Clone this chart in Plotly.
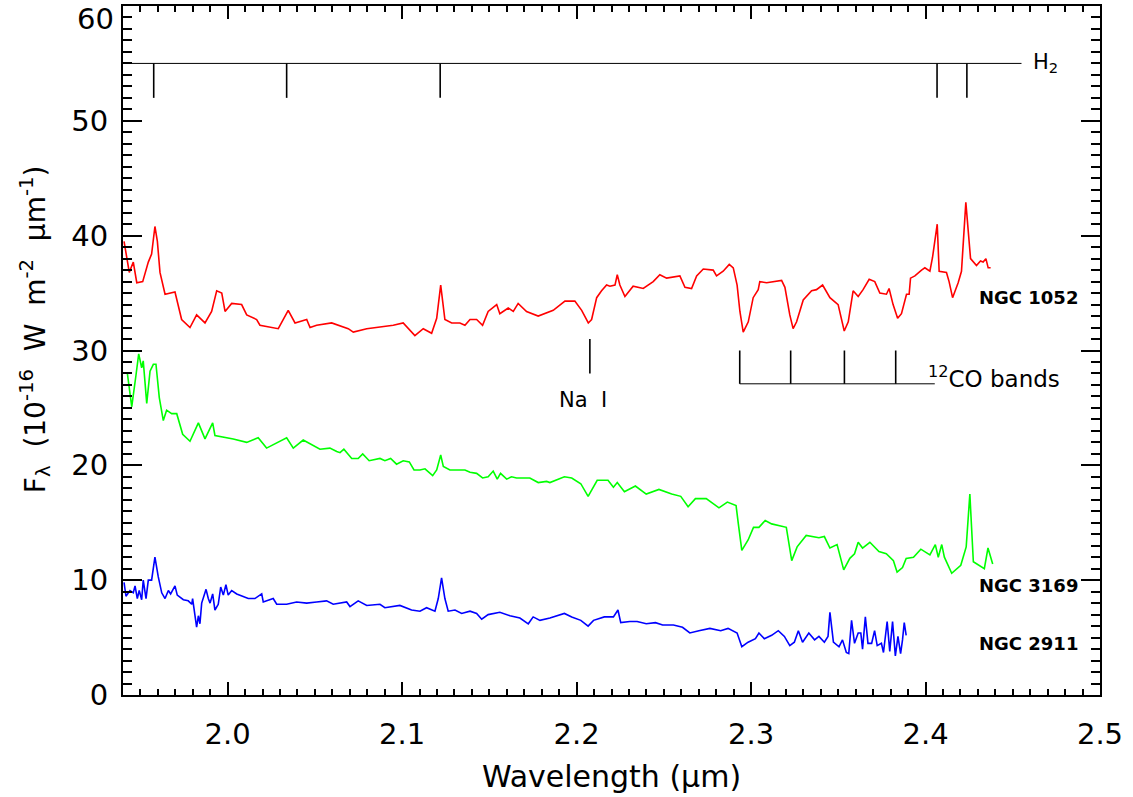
import plotly.graph_objects as go

# ---------------- data ----------------
ngc1052_wl = [1.9406, 1.9421, 1.9436, 1.9459, 1.9479, 1.9513, 1.9545, 1.9564, 1.9583, 1.9597, 1.9612, 1.9641,
              1.9698, 1.9736, 1.9784, 1.9822, 1.9870, 1.9908, 1.9937, 1.9966, 1.9985, 2.0023, 2.0080, 2.0109,
              2.0166, 2.0185, 2.0290, 2.0347, 2.0386, 2.0453, 2.0472, 2.0510, 2.0596, 2.0691, 2.0720, 2.0797,
              2.0854, 2.0949, 2.1006, 2.1073, 2.1121, 2.1169, 2.1198, 2.1221, 2.1245, 2.1284, 2.1331, 2.1360,
              2.1389, 2.1427, 2.1461, 2.1493, 2.1542, 2.1560, 2.1608, 2.1637, 2.1665, 2.1713, 2.1780, 2.1866,
              2.1933, 2.1990, 2.2029, 2.2067, 2.2086, 2.2115, 2.2143, 2.2172, 2.2191, 2.2220, 2.2233, 2.2248,
              2.2277, 2.2324, 2.2382, 2.2439, 2.2477, 2.2516, 2.2592, 2.2621, 2.2659, 2.2688, 2.2726, 2.2783,
              2.2802, 2.2840, 2.2875, 2.2898, 2.2920, 2.2936, 2.2955, 2.2984, 2.3012, 2.3041, 2.3050, 2.3089,
              2.3175, 2.3194, 2.3222, 2.3241, 2.3261, 2.3299, 2.3347, 2.3375, 2.3410, 2.3452, 2.3499, 2.3534,
              2.3557, 2.3585, 2.3614, 2.3642, 2.3677, 2.3709, 2.3738, 2.3776, 2.3791, 2.3814, 2.3840, 2.3862,
              2.3891, 2.3906, 2.3914, 2.3939, 2.3977, 2.3996, 2.4025, 2.4040, 2.4067, 2.4078, 2.4120, 2.4135,
              2.4155, 2.4187, 2.4206, 2.4231, 2.4258, 2.4292, 2.4315, 2.4330, 2.4346, 2.4359, 2.4373]
ngc1052_flux = [39.5, 38.1, 36.8, 37.7, 35.9, 36.0, 37.7, 38.4, 40.8, 39.5, 36.8, 34.9,
                35.1, 32.7, 32.0, 33.1, 32.4, 33.4, 35.2, 35.0, 33.4, 34.1, 34.0, 33.1,
                32.7, 32.2, 31.9, 33.5, 32.4, 32.7, 32.0, 32.2, 32.4, 31.9, 31.6, 31.9,
                32.0, 32.2, 32.4, 31.3, 31.9, 31.5, 32.8, 35.7, 32.7, 32.4, 32.4, 32.2,
                32.7, 32.7, 32.2, 33.4, 34.0, 33.2, 33.7, 33.4, 34.1, 33.4, 33.0, 33.5,
                34.3, 34.3, 33.5, 32.4, 32.7, 34.6, 35.2, 35.7, 35.6, 35.7, 36.6, 35.7,
                34.7, 35.6, 35.4, 36.0, 36.6, 36.3, 36.5, 35.5, 35.4, 36.5, 37.1, 37.0,
                36.5, 36.9, 37.5, 37.2, 35.7, 33.4, 31.6, 32.5, 34.6, 35.3, 36.0, 35.9,
                36.1, 35.5, 33.1, 31.9, 32.5, 34.4, 35.2, 35.3, 35.7, 34.6, 34.0, 31.7,
                32.5, 35.2, 34.7, 35.3, 36.2, 36.0, 35.0, 34.9, 35.4, 34.0, 32.8, 33.2,
                34.9, 34.9, 36.3, 36.5, 37.0, 37.2, 36.9, 38.1, 41.0, 36.9, 36.8, 36.0,
                34.6, 35.9, 36.9, 42.9, 38.0, 37.4, 37.8, 37.7, 38.0, 37.2, 37.2]

ngc3169_wl = [1.9425, 1.9450, 1.9474, 1.9490, 1.9507, 1.9516, 1.9536, 1.9555, 1.9574, 1.9589, 1.9608, 1.9631,
              1.9650, 1.9679, 1.9708, 1.9742, 1.9784, 1.9832, 1.9870, 1.9914, 1.9927, 2.0032, 2.0109, 2.0175,
              2.0223, 2.0338, 2.0376, 2.0433, 2.0529, 2.0586, 2.0625, 2.0644, 2.0666, 2.0711, 2.0748, 2.0774,
              2.0811, 2.0844, 2.0873, 2.0901, 2.0934, 2.0968, 2.1006, 2.1041, 2.1068, 2.1102, 2.1131, 2.1175,
              2.1198, 2.1221, 2.1236, 2.1274, 2.1312, 2.1360, 2.1389, 2.1427, 2.1461, 2.1493, 2.1522, 2.1545,
              2.1564, 2.1599, 2.1627, 2.1656, 2.1732, 2.1780, 2.1828, 2.1847, 2.1930, 2.1972, 2.2024, 2.2066,
              2.2118, 2.2180, 2.2211, 2.2233, 2.2274, 2.2337, 2.2399, 2.2472, 2.2545, 2.2597, 2.2639, 2.2681,
              2.2743, 2.2816, 2.2864, 2.2914, 2.2927, 2.2947, 2.2983, 2.3014, 2.3045, 2.3081, 2.3118, 2.3181,
              2.3202, 2.3233, 2.3264, 2.3316, 2.3389, 2.3420, 2.3452, 2.3493, 2.3531, 2.3566, 2.3593, 2.3614,
              2.3639, 2.3681, 2.3733, 2.3775, 2.3816, 2.3837, 2.3868, 2.3889, 2.3931, 2.3973, 2.4025, 2.4056,
              2.4073, 2.4093, 2.4108, 2.4150, 2.4202, 2.4233, 2.4254, 2.4274, 2.4337, 2.4358, 2.4385]
ngc3169_flux = [28.0, 25.1, 27.8, 29.7, 28.5, 29.1, 25.4, 28.2, 28.8, 28.8, 25.9, 23.9,
                24.8, 24.5, 24.5, 22.7, 22.1, 23.7, 22.3, 23.7, 22.6, 22.3, 22.0, 22.4,
                21.5, 22.4, 21.5, 22.2, 21.4, 21.5, 21.2, 21.1, 21.4, 20.6, 20.6, 21.0,
                20.4, 20.5, 20.6, 20.4, 20.6, 20.1, 20.4, 20.3, 19.6, 19.6, 19.7, 19.1,
                19.6, 20.9, 19.9, 19.6, 19.6, 19.6, 19.4, 19.3, 18.9, 19.0, 19.5, 18.8,
                19.3, 18.8, 19.0, 18.9, 18.9, 18.5, 18.6, 18.5, 19.0, 18.9, 18.4, 17.3,
                18.7, 18.7, 18.1, 18.5, 17.7, 18.2, 17.5, 17.9, 17.5, 17.3, 16.4, 17.1,
                17.1, 16.3, 16.8, 16.5, 14.9, 12.6, 13.5, 14.6, 14.6, 15.2, 14.9, 14.7,
                14.6, 11.7, 12.9, 13.9, 13.7, 13.8, 12.8, 13.1, 10.9, 11.9, 12.3, 13.3,
                12.8, 13.3, 12.5, 12.3, 11.7, 10.7, 11.1, 11.9, 12.0, 12.7, 12.2, 13.1,
                12.0, 13.1, 12.0, 10.6, 11.3, 12.9, 17.5, 11.6, 11.0, 12.8, 11.4]

ngc2911_wl = [1.9406, 1.9417, 1.9440, 1.9459, 1.9469, 1.9482, 1.9493, 1.9507, 1.9516, 1.9532, 1.9545, 1.9564,
              1.9583, 1.9602, 1.9622, 1.9641, 1.9660, 1.9673, 1.9698, 1.9711, 1.9746, 1.9774, 1.9794, 1.9799,
              1.9809, 1.9822, 1.9832, 1.9841, 1.9851, 1.9860, 1.9876, 1.9889, 1.9899, 1.9914, 1.9927, 1.9946,
              1.9960, 1.9975, 1.9990, 2.0003, 2.0023, 2.0052, 2.0080, 2.0118, 2.0156, 2.0195, 2.0204, 2.0261,
              2.0281, 2.0338, 2.0395, 2.0453, 2.0510, 2.0567, 2.0605, 2.0682, 2.0701, 2.0748, 2.0797, 2.0873,
              2.0901, 2.0987, 2.1054, 2.1102, 2.1140, 2.1188, 2.1207, 2.1226, 2.1245, 2.1264, 2.1303, 2.1341,
              2.1389, 2.1427, 2.1456, 2.1493, 2.1560, 2.1618, 2.1675, 2.1723, 2.1751, 2.1790, 2.1847, 2.1930,
              2.1972, 2.2024, 2.2066, 2.2097, 2.2159, 2.2211, 2.2237, 2.2253, 2.2305, 2.2347, 2.2399, 2.2452,
              2.2493, 2.2555, 2.2607, 2.2649, 2.2701, 2.2764, 2.2826, 2.2868, 2.2920, 2.2947, 2.2983, 2.3025,
              2.3045, 2.3076, 2.3118, 2.3156, 2.3191, 2.3222, 2.3248, 2.3271, 2.3295, 2.3331, 2.3364, 2.3389,
              2.3420, 2.3441, 2.3452, 2.3472, 2.3504, 2.3524, 2.3546, 2.3560, 2.3576, 2.3593, 2.3614, 2.3629,
              2.3639, 2.3655, 2.3670, 2.3691, 2.3708, 2.3723, 2.3747, 2.3759, 2.3780, 2.3795, 2.3811, 2.3827,
              2.3842, 2.3857, 2.3868, 2.3878, 2.3889]
ngc2911_flux = [9.8, 8.6, 9.1, 8.9, 9.5, 8.4, 9.1, 8.3, 10.0, 8.4, 10.0, 10.0,
                12.0, 10.3, 8.9, 8.4, 9.1, 8.8, 9.5, 8.7, 8.3, 8.2, 7.9, 8.4,
                7.3, 5.9, 6.9, 6.2, 8.0, 8.4, 9.2, 8.4, 8.0, 8.8, 7.4, 7.9,
                9.4, 8.7, 9.6, 8.7, 9.1, 8.8, 8.6, 8.4, 8.4, 8.8, 8.1, 8.4,
                7.9, 7.9, 8.1, 8.0, 8.1, 8.2, 7.9, 8.1, 7.7, 8.2, 7.8, 7.9,
                7.6, 7.8, 7.4, 7.3, 7.6, 7.3, 8.4, 10.2, 8.4, 7.3, 7.4, 7.1,
                7.3, 7.1, 6.6, 7.0, 7.2, 6.9, 6.7, 6.2, 6.8, 6.5, 6.7, 7.1,
                6.8, 6.5, 6.0, 6.5, 6.8, 6.8, 7.4, 6.3, 6.4, 6.4, 6.2, 6.3,
                6.1, 6.1, 5.9, 5.4, 5.6, 5.8, 5.6, 5.8, 5.4, 4.2, 4.6, 4.9,
                5.4, 4.9, 5.2, 5.6, 5.1, 4.3, 4.6, 5.6, 4.6, 5.4, 4.8, 5.1,
                4.6, 5.1, 7.2, 4.6, 4.2, 4.8, 3.7, 3.6, 6.5, 4.5, 5.4, 5.4,
                4.0, 6.8, 4.5, 4.5, 5.6, 4.3, 4.5, 3.7, 6.4, 3.8, 6.4, 3.4,
                5.1, 3.6, 4.8, 6.3, 5.2]

# line identifications
h2_lines = [1.9576, 2.0338, 2.1218, 2.4066, 2.4237]
h2_bar_y = 55.0
h2_tick_bottom = 52.0
h2_bar_range = [1.94, 2.455]

nai_line = 2.2076
nai_y = [31.0, 28.0]

co_bands = [2.2935, 2.3227, 2.3535, 2.3829]
co_tick_top = 30.0
co_bar_y = 27.1
co_bar_end = 2.4053

x_ticks = [2.0, 2.1, 2.2, 2.3, 2.4, 2.5]
y_ticks = [0, 10, 20, 30, 40, 50, 60]

FONT = "DejaVu Sans"
NB = "\u00a0"
TICKSIZE = 29

fig = go.Figure()

# spectra
fig.add_trace(go.Scatter(x=ngc1052_wl, y=ngc1052_flux, mode="lines",
                         line=dict(color="#ff0000", width=1.6), showlegend=False))
fig.add_trace(go.Scatter(x=ngc3169_wl, y=ngc3169_flux, mode="lines",
                         line=dict(color="#00ff00", width=1.6), showlegend=False))
fig.add_trace(go.Scatter(x=ngc2911_wl, y=ngc2911_flux, mode="lines",
                         line=dict(color="#0000ff", width=1.6), showlegend=False))

# H2 bar
fig.add_trace(go.Scatter(x=h2_bar_range, y=[h2_bar_y, h2_bar_y], mode="lines",
                         line=dict(color="black", width=1), showlegend=False))
hx, hy = [], []
for w in h2_lines:
    hx += [w, w, None]
    hy += [h2_bar_y, h2_tick_bottom, None]
fig.add_trace(go.Scatter(x=hx, y=hy, mode="lines", line=dict(color="black", width=1.6),
                         showlegend=False))

# Na I
fig.add_trace(go.Scatter(x=[nai_line, nai_line], y=nai_y, mode="lines",
                         line=dict(color="black", width=1.6), showlegend=False))

# CO bands
cx, cy = [], []
for w in co_bands:
    cx += [w, w, None]
    cy += [co_tick_top, co_bar_y, None]
fig.add_trace(go.Scatter(x=cx, y=cy, mode="lines", line=dict(color="black", width=1.6),
                         showlegend=False))
fig.add_trace(go.Scatter(x=[co_bands[0], co_bar_end], y=[co_bar_y, co_bar_y], mode="lines",
                         line=dict(color="black", width=1), showlegend=False))

ann_font = dict(family=FONT, size=21, color="black")
fig.add_annotation(x=2.4603, y=h2_bar_y, text="H<sub>2</sub>", showarrow=False,
                   xanchor="left", yanchor="middle", font=ann_font)
fig.add_annotation(x=2.2039, y=25.7, text="Na" + NB + NB + "I", showarrow=False,
                   xanchor="center", yanchor="middle", font=ann_font)
fig.add_annotation(x=2.4005, y=27.7, text="<sup>12</sup>CO bands", showarrow=False,
                   xanchor="left", yanchor="middle", font=dict(family=FONT, size=23, color="black"))

lab_font = dict(family=FONT, size=18, color="black")
for txt, yy in [("<b>NGC 1052</b>", 34.6), ("<b>NGC 3169</b>", 9.55), ("<b>NGC 2911</b>", 4.5)]:
    fig.add_annotation(x=2.4885, y=yy, text=txt, showarrow=False,
                       xanchor="right", yanchor="middle", font=lab_font)

# top y tick label (would overflow the page top as a normal tick label)
fig.add_annotation(xref="paper", x=0, y=y_ticks[-1], text=str(y_ticks[-1]), showarrow=False,
                   xanchor="right", yanchor="middle", xshift=-7, yshift=-13,
                   font=dict(family=FONT, size=TICKSIZE, color="black"))

# y-axis title
ytitle = ("F<sub>λ</sub>" + NB * 2 + "(10<sup>-16</sup>" + NB * 2 + "W" + NB * 2 +
          "m<sup>-2</sup>" + NB * 2 + "μm<sup>-1</sup>)")
fig.add_annotation(xref="paper", yref="paper", x=0, y=0.531, xshift=-88, text=ytitle,
                   textangle=-90, showarrow=False, xanchor="center", yanchor="middle",
                   font=dict(family=FONT, size=28, color="black"))

fig.update_layout(
    width=1133, height=797,
    margin=dict(l=123, r=33, t=4, b=102),
    paper_bgcolor="white", plot_bgcolor="white",
    font=dict(family=FONT, color="black"),
    showlegend=False,
)

fig.update_xaxes(
    range=[1.94, 2.5], tickvals=x_ticks, ticktext=[f"{v:.1f}" for v in x_ticks],
    ticks="inside", ticklen=13, tickwidth=2, tickcolor="black",
    showline=True, linewidth=2, linecolor="black", mirror="ticks",
    showgrid=False, zeroline=False,
    tickfont=dict(family=FONT, size=TICKSIZE),
    ticklabelstandoff=12,
    minor=dict(dtick=0.01, ticks="inside", ticklen=6, tickwidth=1.5, tickcolor="black", showgrid=False),
    title=dict(text="Wavelength (μm)", font=dict(family=FONT, size=30), standoff=16),
)
fig.update_yaxes(
    range=[0, 60], tickvals=y_ticks, ticktext=[str(v) for v in y_ticks[:-1]] + [""],
    ticks="inside", ticklen=19, tickwidth=2, tickcolor="black",
    showline=True, linewidth=2, linecolor="black", mirror="ticks",
    showgrid=False, zeroline=False,
    tickfont=dict(family=FONT, size=TICKSIZE),
    ticklabelstandoff=7,
    minor=dict(dtick=1, ticks="inside", ticklen=9, tickwidth=1.5, tickcolor="black", showgrid=False),
)

fig.write_html("out.html", config={"displayModeBar": False},
               post_script="document.body.style.margin='0px';")
